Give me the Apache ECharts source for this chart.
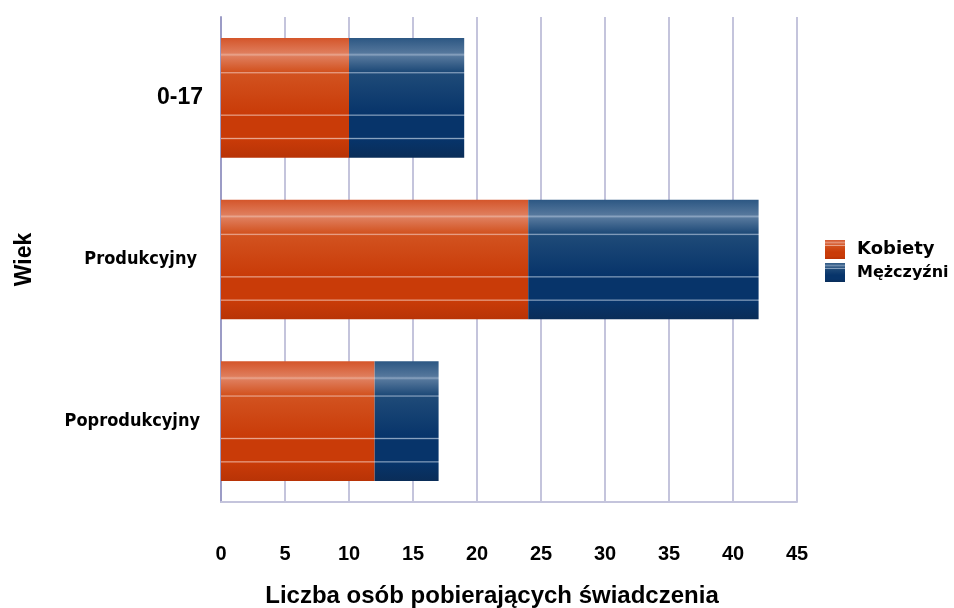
<!DOCTYPE html>
<html><head><meta charset="utf-8">
<script src="https://cdn.jsdelivr.net/npm/echarts@6/dist/echarts.min.js"></script>
<style>html,body{margin:0;padding:0;background:#fff;overflow:hidden;}#c{width:954px;height:608px;}</style>
</head><body><div id="c"></div>
<script>
const categories = ['0-17', 'Produkcyjny', 'Poprodukcyjny'];
const kobiety = [10, 24, 12];
const mezczyzni = [9, 18, 5];
const xTicks = [0, 5, 10, 15, 20, 25, 30, 35, 40, 45];

function stripes(c) {
  return {
    type: 'linear', x: 0, y: 0, x2: 0, y2: 1,
    colorStops: [
      {offset: 0, color: c[0]},
      {offset: 0.125, color: c[1]},
      {offset: 0.14, color: c[5]},
      {offset: 0.155, color: c[1]},
      {offset: 0.28, color: c[2]},
      {offset: 0.29, color: c[5]},
      {offset: 0.30, color: c[2]},
      {offset: 0.635, color: c[3]},
      {offset: 0.645, color: c[5]},
      {offset: 0.655, color: c[3]},
      {offset: 0.83, color: c[3]},
      {offset: 0.84, color: c[5]},
      {offset: 0.85, color: c[3]},
      {offset: 1, color: c[4]}
    ]
  };
}
const orange = stripes(['#d4552a', '#df7d5c', '#d2521f', '#c93b08', '#b83306', '#e9a58e']);
const blue = stripes(['#2c5783', '#55779c', '#1e4a78', '#07346a', '#0a2d58', '#8aa3c0']);

const chart = echarts.init(document.getElementById('c'), null, {renderer: 'canvas'});
chart.setOption({
  animation: false,
  backgroundColor: '#ffffff',
  grid: {left: 221, right: 157, top: 17, bottom: 106, containLabel: false, outerBoundsMode: 'none'},
  legend: {
    orient: 'vertical', left: 820, top: 235, itemWidth: 20, itemHeight: 19, itemGap: 4,
    icon: 'rect',
    formatter: n => (n === 'Kobiety' ? '{k|' : '{m|') + n + '}',
    textStyle: {rich: {
      k: {fontFamily: 'DejaVu Sans', fontWeight: 'bold', fontSize: 18, lineHeight: 19, color: '#000', padding: [0, 0, 0, 7]},
      m: {fontFamily: 'DejaVu Sans', fontWeight: 'bold', fontSize: 16, lineHeight: 19, color: '#000', padding: [0, 0, 0, 7]}
    }},
    data: ['Kobiety', 'Mężczyźni']
  },
  xAxis: {
    type: 'value', min: 0, max: 45, interval: 5,
    name: 'Liczba osób pobierających świadczenia', nameLocation: 'middle', nameGap: 82,
    nameTextStyle: {fontFamily: 'Liberation Sans', fontWeight: 'bold', fontSize: 24, color: '#000', padding: [0, 34, 0, 0]},
    axisLine: {show: true, lineStyle: {color: '#c4c4dc', width: 2}},
    axisTick: {show: false},
    axisLabel: {margin: 42, fontFamily: 'Liberation Sans', fontWeight: 'bold', fontSize: 20, color: '#000',
      formatter: v => xTicks.includes(v) ? String(v) : ''},
    splitLine: {show: true, lineStyle: {color: '#c4c4dc', width: 2}}
  },
  yAxis: {
    type: 'category', inverse: true, data: categories,
    name: 'Wiek', nameLocation: 'middle', nameGap: 185, nameRotate: 90,
    nameTextStyle: {fontFamily: 'Liberation Sans', fontWeight: 'bold', fontSize: 23, color: '#000'},
    axisLine: {show: true, lineStyle: {color: '#9c9cc6', width: 2}},
    axisTick: {show: false},
    axisLabel: {
      margin: 0,
      formatter: (v, i) => ['{a|', '{b|', '{c|'][i] + v + '}',
      rich: {
        a: {fontFamily: 'Liberation Sans', fontWeight: 'bold', fontSize: 23, color: '#000', padding: [0, 18, 0, 0]},
        b: {fontFamily: 'DejaVu Sans Condensed', fontWeight: 'bold', fontSize: 18, color: '#000', padding: [0, 24, 0, 0]},
        c: {fontFamily: 'DejaVu Sans Condensed', fontWeight: 'bold', fontSize: 18, color: '#000', padding: [0, 21, 0, 0]}
      }
    },
    splitLine: {show: false}
  },
  series: [
    {name: 'Kobiety', type: 'bar', stack: 's', barWidth: '74%', data: kobiety, itemStyle: {color: orange}},
    {name: 'Mężczyźni', type: 'bar', stack: 's', barWidth: '74%', data: mezczyzni, itemStyle: {color: blue}}
  ]
});
</script></body></html>
